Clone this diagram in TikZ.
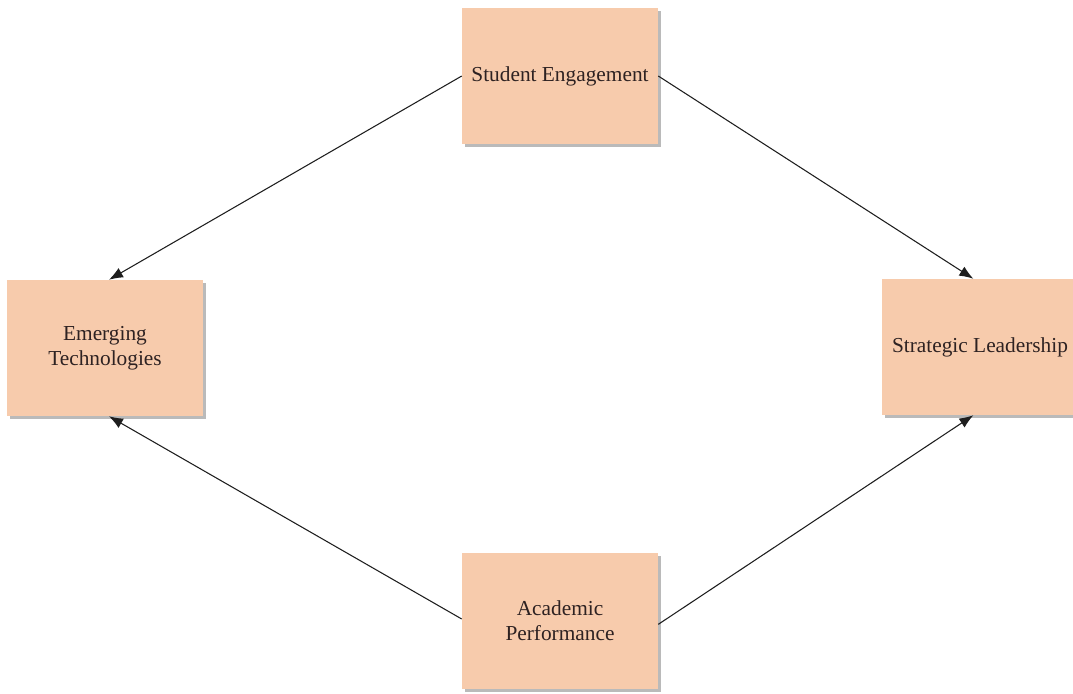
\documentclass[tikz,border=0pt]{standalone}
\usepackage{fontspec}
\setmainfont{Liberation Serif}
\usetikzlibrary{shadows,arrows.meta}
\definecolor{boxfill}{HTML}{F7CBAC}
\definecolor{inktext}{HTML}{2E2222}
\definecolor{linkcol}{HTML}{1E1E1E}
\begin{document}
\begin{tikzpicture}[x=0.75pt,y=-0.75pt,
  factor/.style={rectangle, fill=boxfill, draw=none, inner sep=2pt,
    minimum width=147pt, minimum height=102pt, align=center,
    text=inktext, font=\fontsize{16}{18.5}\selectfont,
    drop shadow={shadow xshift=2.2pt, shadow yshift=-2.2pt, fill=black!45, opacity=0.6}},
  link/.style={draw=linkcol, line width=0.8pt, -{Latex[length=10.5pt,width=8pt]}}]
  \useasboundingbox (0,0) rectangle (1073,693);
  \node[factor] (se) at (560,76) {Student Engagement};
  \node[factor] (et) at (105,348) {Emerging\\Technologies};
  \node[factor] (sl) at (980,347) {Strategic Leadership};
  \node[factor] (ap) at (560,621) {Academic\\Performance};
  \draw[link] (se.west) -- ([xshift=3]et.north);
  \draw[link] (se.east) -- ([xshift=-5]sl.north);
  \draw[link] ([yshift=1.5]ap.west) -- ([xshift=3]et.south);
  \draw[link] ([yshift=-2.5]ap.east) -- ([xshift=-5]sl.south);
\end{tikzpicture}
\end{document}
